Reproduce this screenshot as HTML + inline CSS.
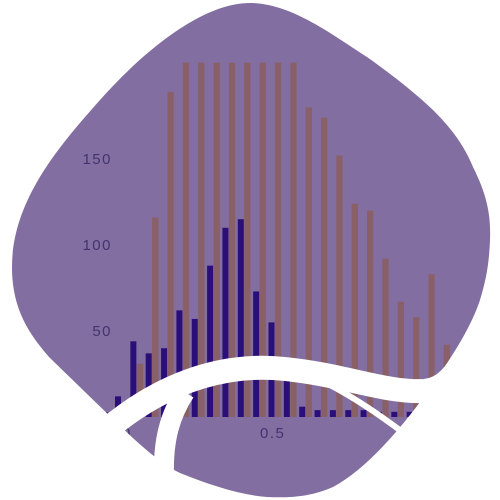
<!DOCTYPE html>
<html><head><meta charset="utf-8"><style>
html,body{margin:0;padding:0;background:#fff;width:500px;height:500px;overflow:hidden}
svg{display:block}
text{font-family:"Liberation Sans",sans-serif;font-size:15px;fill:#43336e;letter-spacing:1.5px}
</style></head><body>
<svg id="chart" width="500" height="500" viewBox="0 0 500 500" xmlns="http://www.w3.org/2000/svg">
<defs><clipPath id="blobclip"><path d="M250 3 C290 3 330 33 367 57 C395 77 415 93 433 110 C455 132 465 148 473 167 C487 195 491 215 490 240 C489 265 486 280 480 300 C470 330 450 360 425 395 C400 430 365 470 333 487 C310 497 290 498 267 497 C240 495 210 485 180 473 C160 463 140 445 117 423 L50 358 C30 335 12 310 12 267 C12 200 60 145 100 100 C140 55 200 3 250 3 Z"/></clipPath></defs>
<path d="M250 3 C290 3 330 33 367 57 C395 77 415 93 433 110 C455 132 465 148 473 167 C487 195 491 215 490 240 C489 265 486 280 480 300 C470 330 450 360 425 395 C400 430 365 470 333 487 C310 497 290 498 267 497 C240 495 210 485 180 473 C160 463 140 445 117 423 L50 358 C30 335 12 310 12 267 C12 200 60 145 100 100 C140 55 200 3 250 3 Z" fill="#826ea0"/>
<g id="plot" clip-path="url(#blobclip)"></g>
<g id="swooshes">
<path d="M95 440 C155 385 220 362 285 369 C345 375 385 393 425 391 C445 389 455 375 470 350" stroke="#fff" stroke-width="24" fill="none"/>
<path d="M185 392 C170 415 163 440 164 475" stroke="#fff" stroke-width="20" fill="none"/>
<path d="M328 384 C355 398 380 415 405 434" stroke="#fff" stroke-width="6" fill="none"/>
</g>
</svg>
<script>
const bins = [0,0.05,0.1,0.15,0.2,0.25,0.3,0.35,0.4,0.45,0.5,0.55,0.6,0.65,0.7,0.75,0.8,0.85,0.9,0.95,1.0,1.05];
const seriesA = [12,44,37,40,62,57,88,110,115,73,55,25,6,4,4,4,4,3,3,3,2,1];
const seriesB = [4,31,116,189,206,206,206,206,206,206,206,206,180,174,152,124,120,92,67,58,83,42];
const yTicks = [0,50,100,150];
const yTickLabels = ["0","50","100","150"];
const xTicks = [0,0.5];
const xTickLabels = ["0.0","0.5"];
const NS="http://www.w3.org/2000/svg";
function xs(v){return 121.2+v*307;}
function ys(v){return 417-v*1.72;}
const plot=document.getElementById('plot');
function rect(x,y,w,h,fill){const r=document.createElementNS(NS,'rect');r.setAttribute('x',x);r.setAttribute('y',y);r.setAttribute('width',w);r.setAttribute('height',h);r.setAttribute('fill',fill);return r;}
bins.forEach((b,i)=>{
  const rb=rect(xs(b)+0.2,ys(seriesB[i]),6.3,ys(0)-ys(seriesB[i]),'#8a6068');
  
  
  plot.appendChild(rb);
  const ra=rect(xs(b)-6.2,ys(seriesA[i]),6,ys(0)-ys(seriesA[i]),'#2a0f7a');
  
  
  plot.appendChild(ra);
});
yTicks.forEach((t,i)=>{
  const tx=document.createElementNS(NS,'text');
  tx.setAttribute('x',112);tx.setAttribute('y',ys(t)+5);tx.setAttribute('text-anchor','end');
  tx.textContent=yTickLabels[i];
  
  
  plot.appendChild(tx);
});
xTicks.forEach((t,i)=>{
  const tx=document.createElementNS(NS,'text');
  tx.setAttribute('x',xs(t)-2);tx.setAttribute('y',438);tx.setAttribute('text-anchor','middle');
  tx.textContent=xTickLabels[i];
  
  
  plot.appendChild(tx);
});
</script>
</body></html>
